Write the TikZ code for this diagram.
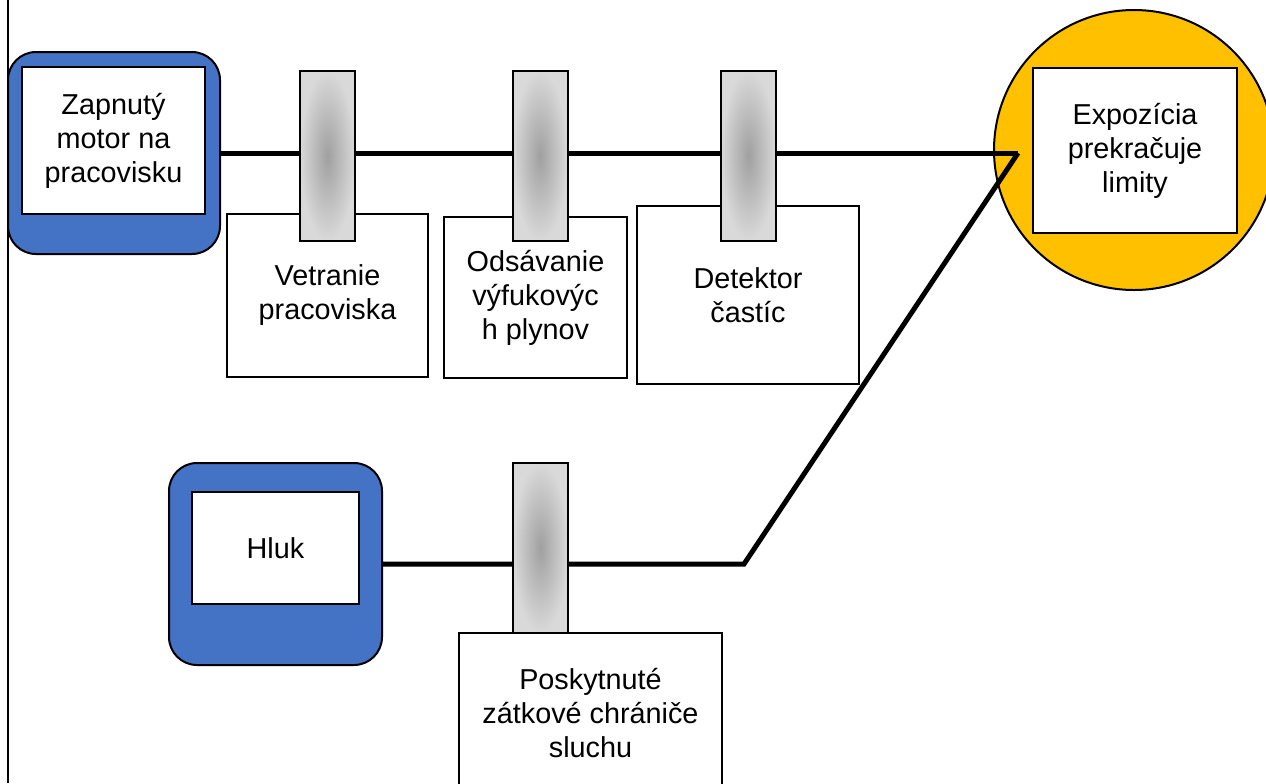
\documentclass[tikz,border=0pt]{standalone}
\usepackage{fontspec}
\setmainfont{Liberation Sans}
\definecolor{bluebox}{HTML}{4472C4}
\definecolor{yellowc}{HTML}{FFC000}
\definecolor{barin}{HTML}{A0A0A0}
\definecolor{barout}{HTML}{D9D9D9}
\begin{document}
\begin{tikzpicture}[x=0.75pt,y=-0.75pt,
  txt/.style={font=\fontsize{21.6}{25.5}\selectfont, align=center, text=black},
  bluebox/.style={draw=black, line width=1.5pt, fill=bluebox, rounded corners=21pt, inner sep=0pt},
  innerbox/.style={draw=black, line width=1.5pt, fill=white, inner sep=0pt, txt},
  ctrlbox/.style={draw=black, line width=1.5pt, fill=white, inner sep=0pt, txt},
  barrier/.style={draw=black, line width=1.5pt, inner color=barin, outer color=barout, inner sep=0pt, minimum width=41.25pt, minimum height=127.5pt},
  conn/.style={line width=3.75pt, black},
  bigcirc/.style={circle, draw=black, line width=1.5pt, fill=yellowc, inner sep=0pt, minimum size=210pt}
]
\useasboundingbox (0,0) rectangle (1266,783);
\clip (0,0) rectangle (1266,783);

% left border line
\coordinate (lt) at (8,0);
\coordinate (lb) at (8,783);
\draw[line width=1.5pt] (lt) -- (lb);

% hazard target circle
\node[bigcirc] (circ) at (1134,150) {};

% control boxes
\node[ctrlbox, minimum width=150.75pt, minimum height=122.25pt] (vetr) at (327.5,295.5) {Vetranie\\pracoviska};
\node[ctrlbox, minimum width=137.25pt, minimum height=120.75pt] (odsav) at (535.5,297.5) {Odsávanie\\výfukovýc\\h plynov};
\node[ctrlbox, minimum width=166.5pt, minimum height=133.5pt] (detek) at (748,295) {Detektor\\častíc};
\node[ctrlbox, minimum width=197.25pt, minimum height=120pt] (posk) at (590.5,713) {Poskytnuté\\zátkové chrániče\\sluchu};

% hazard sources
\node[bluebox, minimum width=159pt, minimum height=151.5pt] (motor) at (114,153) {};
\node[innerbox, minimum width=137.25pt, minimum height=110.25pt] (motorin) at (113.5,140.5) {Zapnutý\\motor na\\pracovisku};
\node[bluebox, minimum width=159.75pt, minimum height=151.5pt] (hluk) at (275.5,564) {};
\node[innerbox, minimum width=125.25pt, minimum height=84pt] (hlukin) at (275.5,548) {Hluk};

% connectors
\coordinate (j1) at (1018,153);
\coordinate (j2) at (744,564);
\draw[conn] (motor.east) -- (j1);
\draw[conn, line join=miter] (hluk.east) -- (j2) -- (j1);

% barriers
\node[barrier] (b1) at (327.5,156) {};
\node[barrier] (b2) at (540,156) {};
\node[barrier] (b3) at (748.5,155.5) {};
\node[barrier] (b4) at (540.5,548) {};

% target inner box
\node[innerbox, minimum width=153pt, minimum height=123.75pt] (expo) at (1135,150.5) {Expozícia\\prekračuje\\limity};
\end{tikzpicture}
\end{document}
